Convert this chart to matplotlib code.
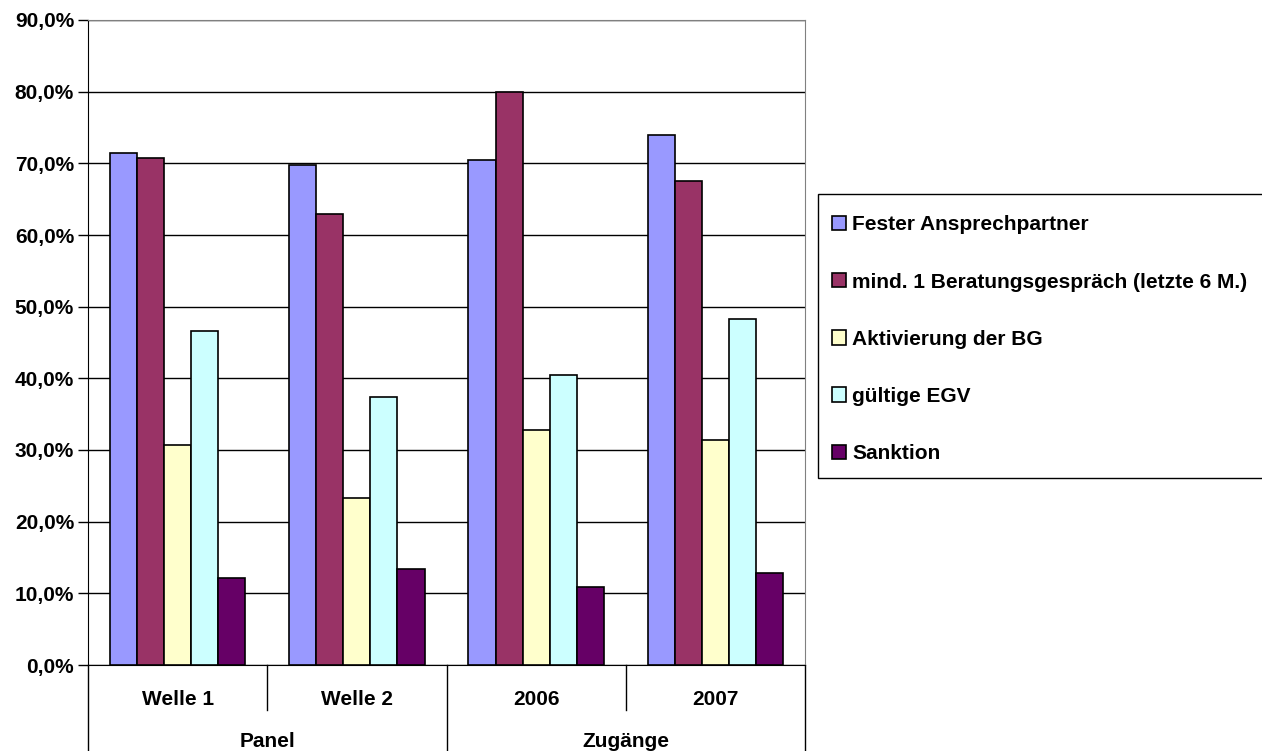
import matplotlib.pyplot as plt
import matplotlib.patches as mpatches
import numpy as np
from matplotlib.transforms import blended_transform_factory

plt.rcParams['font.family'] = ['Liberation Sans', 'DejaVu Sans']
plt.rcParams['font.weight'] = 'bold'

# Data (percent)
categories = ['Welle 1', 'Welle 2', '2006', '2007']
groups = ['Panel', 'Zugänge']
series_names = ['Fester Ansprechpartner',
                'mind. 1 Beratungsgespräch (letzte 6 M.)',
                'Aktivierung der BG',
                'gültige EGV',
                'Sanktion']
fester = [71.5, 69.8, 70.4, 73.9]
beratung = [70.7, 63.0, 79.9, 67.6]
aktivierung = [30.7, 23.3, 32.8, 31.4]
egv = [46.6, 37.4, 40.5, 48.3]
sanktion = [12.2, 13.4, 10.9, 12.8]
series_values = [fester, beratung, aktivierung, egv, sanktion]
colors = ['#9999FF', '#993366', '#FFFFCC', '#CCFFFF', '#660066']

fig = plt.figure(figsize=(12.62, 7.51), dpi=100)
ax = fig.add_axes([88 / 1262, 86 / 751, 717 / 1262, 645 / 751])

x = np.arange(len(categories))
w = 0.151
for i, (name, vals, c) in enumerate(zip(series_names, series_values, colors)):
    ax.bar(x + (i - 2) * w, vals, width=w, color=c, edgecolor='black',
           linewidth=1.2, label=name, zorder=3)

ax.set_xlim(-0.5, 3.5)
ax.set_ylim(0, 90)
ax.set_yticks(np.arange(0, 91, 10))
ax.set_yticklabels([f'{v:.1f}%'.replace('.', ',') for v in np.arange(0, 91, 10)],
                   fontsize=15, fontweight='bold')
ax.yaxis.grid(True, color='black', linewidth=1.0, zorder=0)
ax.tick_params(axis='y', direction='out', length=7, width=1, pad=3)
ax.set_xticks([])
ax.spines['left'].set_color('black')
ax.spines['bottom'].set_color('black')
ax.spines['top'].set_color('#808080')
ax.spines['right'].set_color('#808080')

# two-level category axis
trans = blended_transform_factory(ax.transData, ax.transAxes)
for i, cat in enumerate(categories):
    ax.text(i, -0.053, cat, transform=trans, ha='center', va='center',
            fontsize=15, fontweight='bold')
for j, g in enumerate(groups):
    ax.text(2 * j + 0.5, -0.119, g, transform=trans, ha='center', va='center',
            fontsize=15, fontweight='bold')
for xb in [-0.5, 0.5, 1.5, 2.5, 3.5]:
    bottom = -0.135 if xb in (-0.5, 1.5, 3.5) else -0.07
    ax.plot([xb, xb], [0, bottom], transform=trans, color='black',
            linewidth=1.0, clip_on=False)

# legend
fig.patches.append(mpatches.Rectangle((818 / 1262, 1 - 478 / 751), 460 / 1262, 284 / 751,
                                      transform=fig.transFigure, facecolor='white',
                                      edgecolor='black', linewidth=1.0))
handles, labels = ax.get_legend_handles_labels()
fig.legend(handles, labels, loc='upper left', bbox_to_anchor=(832 / 1262, 1 - 215.5 / 751),
           frameon=False, handlelength=0.68, handleheight=0.68,
           handletextpad=0.3, labelspacing=1.83, borderpad=0, borderaxespad=0,
           prop={'weight': 'bold', 'size': 15})

fig.savefig('out.png', dpi=100)
